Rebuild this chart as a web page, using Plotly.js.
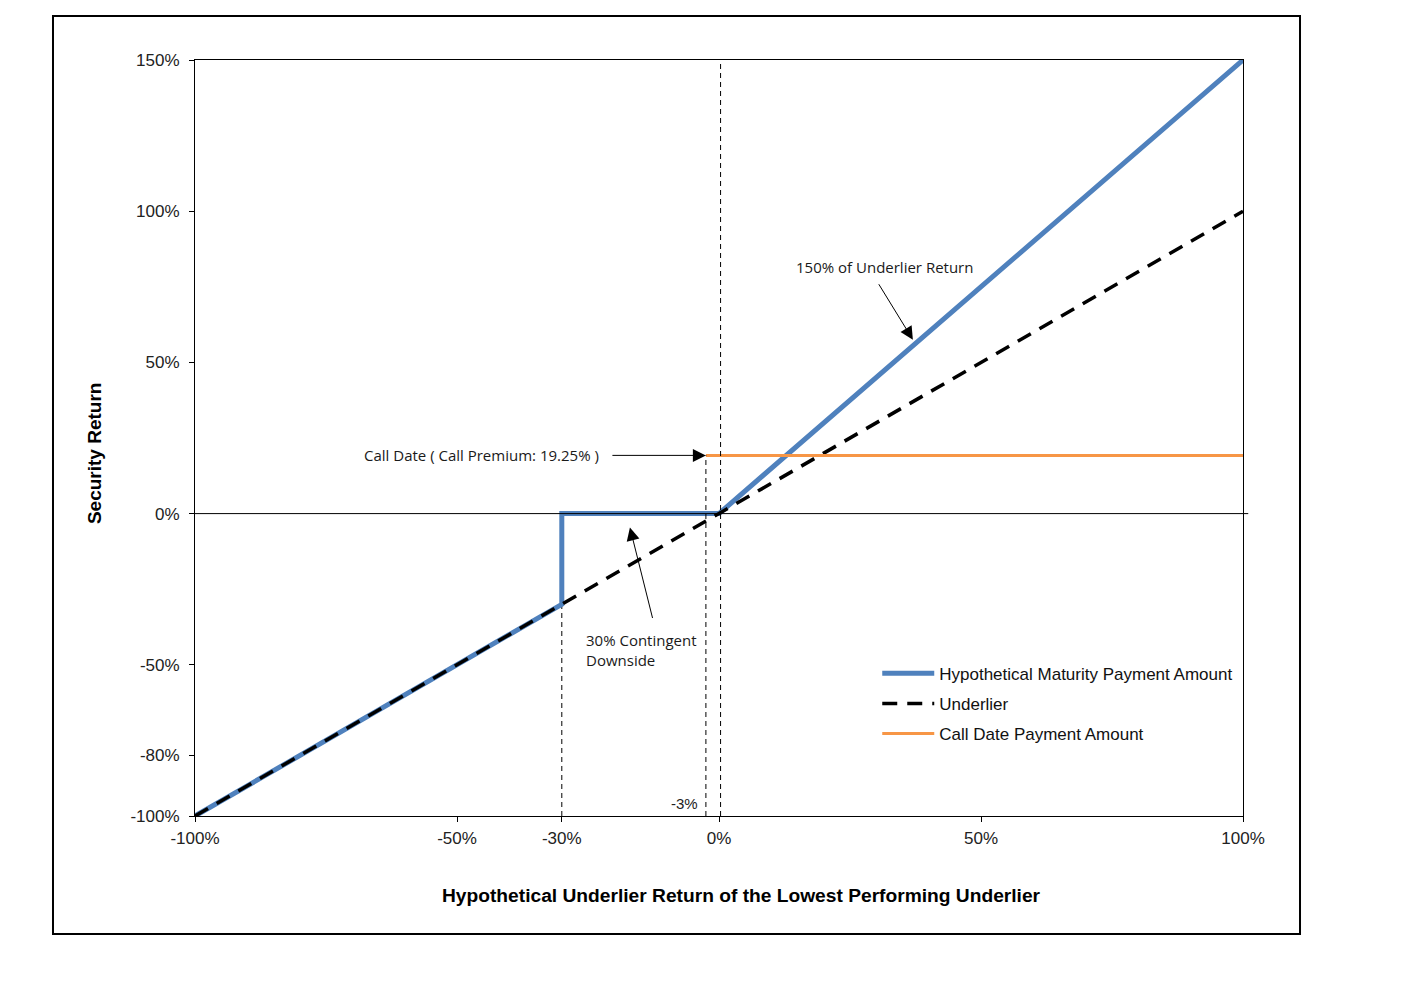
<!DOCTYPE html>
<html>
<head>
<meta charset="utf-8">
<script src="https://cdn.plot.ly/plotly-3.0.1.min.js"></script>
<style>
html,body{margin:0;padding:0;background:#fff;}
#chart{width:1413px;height:999px;}
</style>
</head>
<body>
<div id="chart"></div>
<script>
// Data (percent)
var maturityX = [-100, -30, -30, 0, 100];
var maturityY = [-100, -30, 0, 0, 150];
var underlierX = [-100, 100];
var underlierY = [-100, 100];
var callX = [-2.5, 100];
var callY = [19.25, 19.25];
var seriesNames = ["Hypothetical Maturity Payment Amount", "Underlier", "Call Date Payment Amount"];
var xTickVals = [-100, -50, -30, 0, 50, 100];
var xTickText = ["-100%", "-50%", "-30%", "0%", "50%", "100%"];
var yTickVals = [-100, -80, -50, 0, 50, 100, 150];
var yTickText = ["-100%", "-80%", "-50%", "0%", "50%", "100%", "150%"];
var knockIn = -30;
var callLevel = -2.5;
var callPremium = 19.25;

var traces = [
  {x: maturityX, y: maturityY, mode: "lines", name: seriesNames[0], legendgroup: "a",
   line: {color: "#4F81BD", width: 5}},
  {x: underlierX, y: underlierY, mode: "lines", name: seriesNames[1], legendgroup: "b",
   line: {color: "#000000", width: 3.5, dash: "15px,10px"}},
  {x: callX, y: callY, mode: "lines", name: seriesNames[2], legendgroup: "c",
   line: {color: "#F79646", width: 3}}
];

var annFont = {family: "Open Sans, Noto Sans, sans-serif", size: 15, color: "#1a1a1a"};
var tickFont = {family: "Liberation Sans, Arial, sans-serif", size: 17, color: "#222"};

var layout = {
  width: 1413, height: 999,
  paper_bgcolor: "#ffffff", plot_bgcolor: "#ffffff",
  margin: {l: 195, r: 170, t: 60, b: 183, pad: 0},
  showlegend: true,
  legend: {
    x: 0.651, y: 0.212, xanchor: "left", yanchor: "top",
    font: {family: "Liberation Sans, Arial, sans-serif", size: 17, color: "#111"},
    bgcolor: "rgba(0,0,0,0)", traceorder: "grouped", tracegroupgap: 5,
    itemwidth: 52
  },
  xaxis: {
    range: [-100, 100], tickvals: xTickVals, ticktext: xTickText,
    showgrid: false, zeroline: false,
    showline: true, linecolor: "#000", linewidth: 1, mirror: true,
    ticks: "outside", ticklen: 5, tickcolor: "#000", ticklabelstandoff: 2,
    tickfont: tickFont
  },
  yaxis: {
    range: [-100, 150], tickvals: yTickVals, ticktext: yTickText,
    showgrid: false, zeroline: false,
    showline: true, linecolor: "#000", linewidth: 1, mirror: true,
    ticks: "outside", ticklen: 5, tickcolor: "#000", ticklabelstandoff: 6,
    tickfont: tickFont
  },
  shapes: [
    {type: "rect", xref: "paper", yref: "paper", x0: -0.1355, x1: 1.0544, y0: -0.1561, y1: 1.0582,
     line: {color: "#000", width: 2}, fillcolor: "rgba(0,0,0,0)", layer: "below"},
    {type: "line", xref: "paper", yref: "y", x0: 0, x1: 1.005, y0: 0, y1: 0,
     line: {color: "#000", width: 1}},
    {type: "line", xref: "x", yref: "y", x0: 0.3, x1: 0.3, y0: -100, y1: 150,
     line: {color: "#000", width: 1, dash: "5px,4px"}},
    {type: "line", xref: "x", yref: "y", x0: callLevel, x1: callLevel, y0: -100, y1: callPremium,
     line: {color: "#000", width: 1, dash: "5px,4px"}},
    {type: "line", xref: "x", yref: "y", x0: knockIn, x1: knockIn, y0: -100, y1: 0,
     line: {color: "#000", width: 1, dash: "5px,4px"}, layer: "below"}
  ],
  annotations: [
    {xref: "paper", yref: "paper", x: 0.521, y: -0.1045, xanchor: "center", yanchor: "middle", showarrow: false,
     text: "<b>Hypothetical Underlier Return of the Lowest Performing Underlier</b>",
     font: {family: "Liberation Sans, Arial, sans-serif", size: 19.2, color: "#000"}},
    {xref: "paper", yref: "paper", x: -0.0964, y: 0.48, xanchor: "center", yanchor: "middle", showarrow: false, textangle: -90,
     text: "<b>Security Return</b>",
     font: {family: "Liberation Sans, Arial, sans-serif", size: 19, color: "#000"}},
    {xref: "x", yref: "paper", x: -6.5, y: 0.0159, xanchor: "center", yanchor: "middle", showarrow: false, text: "-3%",
     font: {family: "Liberation Sans, Arial, sans-serif", size: 15, color: "#222"}},
    {xref: "x", yref: "y", x: 31.5, y: 81.5, xanchor: "center", yanchor: "middle", showarrow: false, text: "150% of Underlier Return", font: annFont},
    {xref: "x", yref: "y", x: 37, y: 57.5, showarrow: true, text: "", ax: -35, ay: -57,
     arrowhead: 2, arrowsize: 2.6, arrowwidth: 1, arrowcolor: "#000"},
    {xref: "x", yref: "y", x: -25.8, y: -45, showarrow: false, xanchor: "left", yanchor: "middle", align: "left",
     text: "30% Contingent<br>Downside", font: annFont},
    {xref: "x", yref: "y", x: -17, y: -4.6, showarrow: true, text: "", ax: 23, ay: 92,
     arrowhead: 2, arrowsize: 2.6, arrowwidth: 1, arrowcolor: "#000"},
    {xref: "x", yref: "y", x: -22.6, y: 19.25, showarrow: false, xanchor: "right", yanchor: "middle",
     text: "Call Date ( Call Premium: 19.25% )", font: annFont},
    {xref: "x", yref: "y", x: callLevel, y: 19.25, showarrow: true, text: "", ax: -95, ay: 0,
     arrowhead: 2, arrowsize: 2.6, arrowwidth: 1, arrowcolor: "#000"}
  ]
};

Plotly.newPlot("chart", traces, layout, {displayModeBar: false, staticPlot: true});
</script>
</body>
</html>
